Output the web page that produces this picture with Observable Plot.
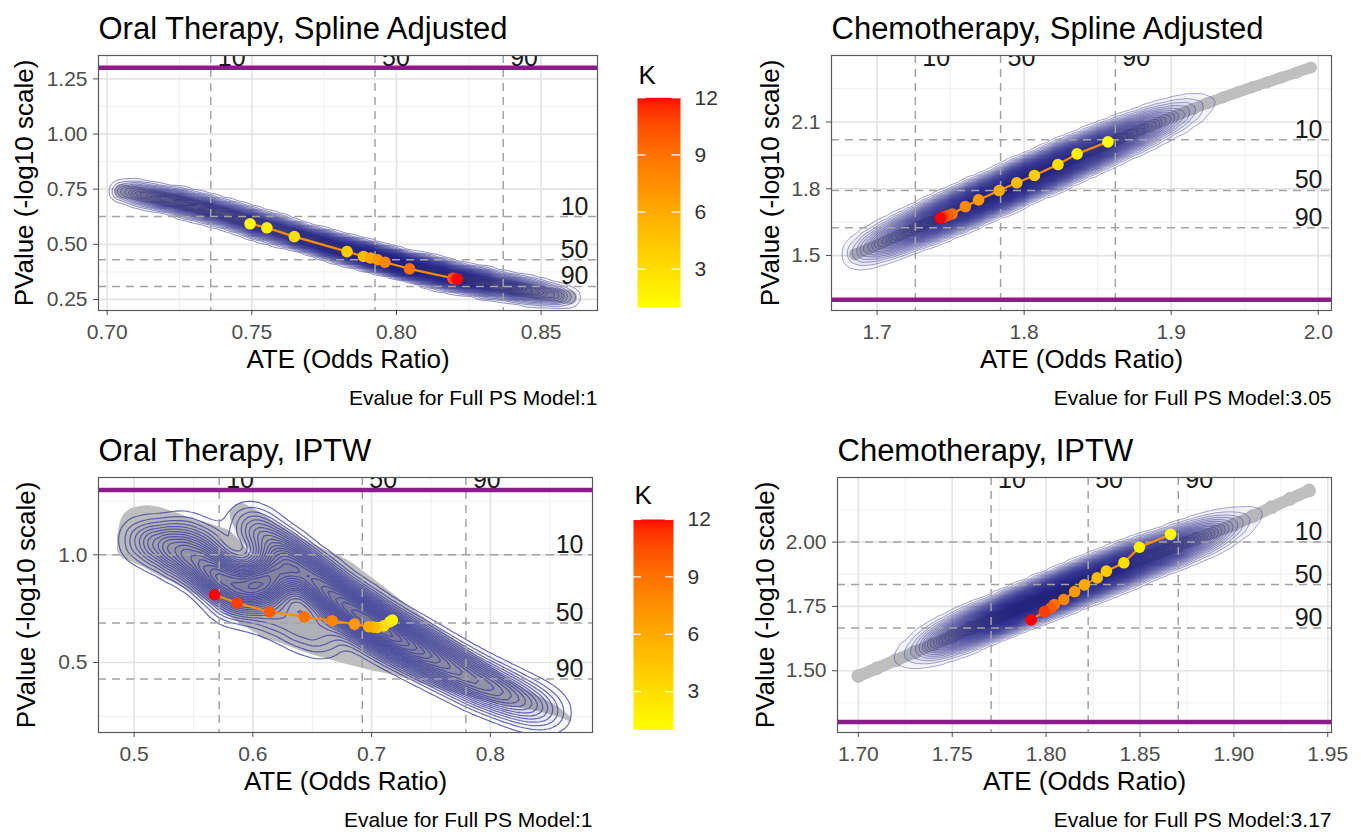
<!DOCTYPE html>
<html>
<head>
<meta charset="utf-8">
<script src="https://cdn.jsdelivr.net/npm/d3@7"></script>
<script src="https://cdn.jsdelivr.net/npm/@observablehq/plot@0.6"></script>
<style>
  html, body { margin: 0; padding: 0; background: #ffffff; }
  #root { position: relative; width: 1361px; height: 832px; overflow: hidden; background: #fff; }
  #root > svg { position: absolute; overflow: visible; }
</style>
</head>
<body>
<div id="root"></div>
<script>
// ---------------- DATA ----------------
const kValues = [1, 2, 3, 4, 5, 6, 7, 8, 9, 10, 11, 12];
const kLegendTicks = [3, 6, 9, 12];
const pctLabels = ["10", "50", "90"];
const pThreshold = 1.30103; // -log10(0.05)

// Panel A: Oral Therapy, Spline Adjusted
const oralSplineTitle = "Oral Therapy, Spline Adjusted";
const oralSplineCaption = "Evalue for Full PS Model:1";
const oralSplineKATE = [0.7494, 0.7552, 0.7647, 0.7829, 0.7886, 0.7910, 0.7935, 0.7960, 0.8045, 0.8195, 0.8203, 0.8210];
const oralSplineKPV  = [0.593, 0.575, 0.535, 0.467, 0.445, 0.438, 0.430, 0.419, 0.389, 0.346, 0.344, 0.342];
const oralSplineCloudATE = [0.705, 0.710, 0.715, 0.720, 0.725, 0.730, 0.735, 0.740, 0.745, 0.750, 0.755, 0.760, 0.765, 0.770, 0.775, 0.780, 0.785, 0.790, 0.795, 0.800, 0.805, 0.810, 0.815, 0.820, 0.825, 0.830, 0.835, 0.840, 0.845, 0.850, 0.855, 0.860];
const oralSplineCloudPV  = [0.742, 0.731, 0.718, 0.705, 0.690, 0.674, 0.658, 0.640, 0.620, 0.598, 0.580, 0.561, 0.541, 0.521, 0.501, 0.482, 0.465, 0.448, 0.431, 0.414, 0.397, 0.382, 0.366, 0.351, 0.338, 0.326, 0.314, 0.302, 0.291, 0.280, 0.270, 0.260];
const oralSplineCloudW   = [0.3, 0.5, 0.7, 0.8, 0.9, 1.0, 1.0, 1.0, 1.1, 1.2, 1.2, 1.2, 1.2, 1.3, 1.4, 1.5, 1.6, 1.7, 1.8, 1.8, 1.8, 1.7, 1.6, 1.5, 1.4, 1.2, 1.0, 0.9, 0.8, 0.6, 0.4, 0.2];
const oralSplineATEq = [0.7358, 0.7926, 0.8369];
const oralSplinePVq  = [0.626, 0.430, 0.309];
const oralSplineXTicks = [0.70, 0.75, 0.80, 0.85];
const oralSplineXMinor = [0.725, 0.775, 0.825];
const oralSplineYTicks = [0.25, 0.50, 0.75, 1.00, 1.25];
const oralSplineYMinor = [0.375, 0.625, 0.875, 1.125];

// Panel B: Chemotherapy, Spline Adjusted
const chemoSplineTitle = "Chemotherapy, Spline Adjusted";
const chemoSplineCaption = "Evalue for Full PS Model:3.05";
const chemoSplineKATE = [1.857, 1.836, 1.823, 1.807, 1.795, 1.783, 1.769, 1.760, 1.751, 1.748, 1.745, 1.743];
const chemoSplineKPV  = [2.011, 1.957, 1.909, 1.860, 1.827, 1.792, 1.750, 1.720, 1.687, 1.680, 1.673, 1.668];
const chemoSplineCloudATE = [1.685, 1.695, 1.705, 1.715, 1.725, 1.735, 1.745, 1.755, 1.765, 1.775, 1.785, 1.795, 1.805, 1.815, 1.825, 1.835, 1.845, 1.855, 1.865, 1.875, 1.885, 1.895, 1.905, 1.915, 1.925, 1.935, 1.945, 1.955, 1.965, 1.975, 1.985, 1.995];
const chemoSplineCloudPV  = [1.505, 1.533, 1.562, 1.591, 1.620, 1.648, 1.676, 1.705, 1.734, 1.763, 1.793, 1.823, 1.853, 1.882, 1.911, 1.940, 1.969, 1.997, 2.025, 2.052, 2.080, 2.107, 2.134, 2.160, 2.186, 2.210, 2.234, 2.256, 2.278, 2.300, 2.322, 2.345];
const chemoSplineCloudW   = [0.12, 0.25, 0.4, 0.55, 0.7, 0.85, 1.0, 1.1, 1.2, 1.25, 1.3, 1.3, 1.3, 1.25, 1.2, 1.1, 1.0, 0.9, 0.75, 0.6, 0.45, 0.32, 0.2, 0.1, 0.04, 0.02, 0.01, 0.01, 0.01, 0.01, 0.01, 0.01];
const chemoSplineATEq = [1.726, 1.784, 1.862];
const chemoSplinePVq  = [2.0205, 1.7925, 1.6245];
const chemoSplineXTicks = [1.7, 1.8, 1.9, 2.0];
const chemoSplineXMinor = [1.75, 1.85, 1.95];
const chemoSplineYTicks = [1.5, 1.8, 2.1];
const chemoSplineYMinor = [1.35, 1.65, 1.95, 2.25];

// Panel C: Oral Therapy, IPTW
const oralIptwTitle = "Oral Therapy, IPTW";
const oralIptwCaption = "Evalue for Full PS Model:1";
const oralIptwKATE = [0.7174, 0.7153, 0.7103, 0.7047, 0.7017, 0.6976, 0.6856, 0.6668, 0.6434, 0.6142, 0.5867, 0.5678];
const oralIptwKPV  = [0.697, 0.689, 0.670, 0.6626, 0.664, 0.666, 0.678, 0.694, 0.712, 0.7355, 0.776, 0.8145];
const oralIptwLobeATE = [0.486, 0.489, 0.495, 0.503, 0.512, 0.520, 0.530, 0.540, 0.550, 0.560, 0.570, 0.580, 0.590, 0.600, 0.605];
const oralIptwLobeLo  = [1.02, 0.99, 0.972, 0.955, 0.930, 0.905, 0.878, 0.850, 0.820, 0.790, 0.755, 0.715, 0.680, 0.645, 0.630];
const oralIptwLobeHi  = [1.08, 1.16, 1.205, 1.222, 1.228, 1.222, 1.205, 1.185, 1.165, 1.150, 1.132, 1.112, 1.06, 0.99, 0.96];
const oralIptwBandATE = [0.581, 0.590, 0.600, 0.605, 0.620, 0.640, 0.660, 0.680, 0.700, 0.720, 0.740, 0.760, 0.780, 0.800, 0.820, 0.840, 0.855, 0.868];
const oralIptwBandLo  = [1.17, 1.07, 0.99, 0.62, 0.595, 0.555, 0.520, 0.490, 0.462, 0.440, 0.405, 0.370, 0.345, 0.315, 0.292, 0.272, 0.250, 0.222];
const oralIptwBandHi  = [1.20, 1.24, 1.215, 1.20, 1.145, 1.08, 1.025, 0.975, 0.895, 0.81, 0.725, 0.645, 0.565, 0.485, 0.405, 0.345, 0.300, 0.245];
const oralIptwDensATE = [0.505, 0.520, 0.535, 0.550, 0.565, 0.575, 0.590, 0.600, 0.610, 0.620, 0.540, 0.560, 0.580, 0.600, 0.620, 0.640, 0.660,
  0.595, 0.605, 0.615, 0.625, 0.635, 0.645, 0.655, 0.665, 0.675, 0.685, 0.695, 0.705, 0.715, 0.725, 0.735, 0.745, 0.755, 0.765, 0.775, 0.785, 0.795, 0.805, 0.815, 0.825, 0.835, 0.845, 0.855];
const oralIptwDensPV  = [1.07, 1.05, 1.01, 0.97, 0.92, 0.885, 0.86, 0.85, 0.89, 0.87, 1.10, 1.05, 0.78, 0.76, 0.72, 0.66, 0.62,
  1.15, 1.10, 1.05, 1.00, 0.96, 0.91, 0.87, 0.82, 0.78, 0.74, 0.70, 0.665, 0.63, 0.60, 0.57, 0.54, 0.51, 0.48, 0.45, 0.42, 0.395, 0.37, 0.345, 0.32, 0.30, 0.28, 0.26];
const oralIptwDensW   = [0.5, 0.8, 1.0, 1.2, 1.4, 1.4, 1.2, 1.0, 1.3, 1.2, 0.5, 0.6, 0.6, 0.6, 0.6, 0.6, 0.5,
  0.4, 0.6, 0.8, 1.0, 1.1, 1.2, 1.3, 1.4, 1.5, 1.6, 1.6, 1.6, 1.5, 1.4, 1.3, 1.2, 1.1, 1.0, 0.95, 0.9, 0.85, 0.8, 0.7, 0.6, 0.5, 0.35, 0.2];
const oralIptwATEq = [0.5716, 0.6921, 0.7794];
const oralIptwPVq  = [1.0, 0.683, 0.423];
const oralIptwXTicks = [0.5, 0.6, 0.7, 0.8];
const oralIptwXMinor = [0.55, 0.65, 0.75, 0.85];
const oralIptwYTicks = [0.5, 1.0];
const oralIptwYMinor = [0.25, 0.75, 1.25];

// Panel D: Chemotherapy, IPTW
const chemoIptwTitle = "Chemotherapy, IPTW";
const chemoIptwCaption = "Evalue for Full PS Model:3.17";
const chemoIptwKATE = [1.8663, 1.8497, 1.8414, 1.8321, 1.8272, 1.8204, 1.8152, 1.8094, 1.8044, 1.8026, 1.7991, 1.7921];
const chemoIptwKPV  = [2.030, 1.980, 1.9196, 1.887, 1.861, 1.8338, 1.8078, 1.7766, 1.757, 1.744, 1.7298, 1.6975];
const chemoIptwCloudATE = [1.70, 1.71, 1.72, 1.73, 1.74, 1.75, 1.76, 1.77, 1.78, 1.79, 1.80, 1.81, 1.82, 1.83, 1.84, 1.85, 1.86, 1.87, 1.88, 1.89, 1.90, 1.91, 1.92, 1.93, 1.94];
const chemoIptwCloudPV  = [1.480, 1.510, 1.541, 1.572, 1.603, 1.634, 1.665, 1.695, 1.726, 1.756, 1.786, 1.815, 1.845, 1.874, 1.903, 1.931, 1.959, 1.986, 2.013, 2.040, 2.068, 2.100, 2.135, 2.168, 2.200];
const chemoIptwCloudW   = [0.01, 0.015, 0.03, 0.12, 0.35, 0.6, 0.85, 1.05, 1.2, 1.3, 1.35, 1.35, 1.35, 1.3, 1.2, 1.05, 0.9, 0.75, 0.55, 0.35, 0.15, 0.05, 0.02, 0.01, 0.01];
const chemoIptwATEq = [1.7707, 1.8224, 1.8704];
const chemoIptwPVq  = [2.00, 1.835, 1.666];
const chemoIptwXTicks = [1.70, 1.75, 1.80, 1.85, 1.90, 1.95];
const chemoIptwXMinor = [1.725, 1.775, 1.825, 1.875, 1.925];
const chemoIptwYTicks = [1.50, 1.75, 2.00];
const chemoIptwYMinor = [1.375, 1.625, 1.875, 2.125];

const xTitle = "ATE (Odds Ratio)";
const yTitle = "PValue (-log10 scale)";

// ---------------- HELPERS ----------------
const zip = (keys, ...arrs) => arrs[0].map((_, i) => Object.fromEntries(keys.map((k, j) => [k, arrs[j][i]])));
const FONT = '"Liberation Sans", Arial, Helvetica, sans-serif';
const kColor = {type: "linear", domain: [1, 12], range: ["#ffff00", "#ff0000"], interpolate: "lab"};
const GREY = "#bfbfbf";
const TOPLABEL = "#1a1a1b";
const NS = "http://www.w3.org/2000/svg";
let clipCount = 0;

// clip the top percentile labels to the panel frame (as in the reference)
function clipToFrame(svg, o) {
  const groups = Array.from(svg.querySelectorAll("g")).filter(g => (g.getAttribute("fill") || "").toLowerCase() === TOPLABEL);
  if (!groups.length) return;
  const id = "pctclip" + (clipCount++);
  const defs = document.createElementNS(NS, "defs");
  const cp = document.createElementNS(NS, "clipPath");
  cp.setAttribute("id", id);
  const r = document.createElementNS(NS, "rect");
  r.setAttribute("x", o.ml); r.setAttribute("y", o.mt);
  r.setAttribute("width", o.w - o.ml - o.mr); r.setAttribute("height", o.h - o.mt - o.mb);
  cp.appendChild(r); defs.appendChild(cp); svg.appendChild(defs);
  for (const g of groups) {
    const wrap = document.createElementNS(NS, "g");
    wrap.setAttribute("clip-path", `url(#${id})`);
    g.parentNode.insertBefore(wrap, g);
    wrap.appendChild(g);
  }
}

function panel(o) {
  const kData = zip(["k", "ate", "pv"], kValues, o.kATE, o.kPV);
  const marks = [
    Plot.gridX(o.xMinor, {stroke: "#f0f0f0", strokeWidth: 1, strokeOpacity: 1}),
    Plot.gridY(o.yMinor, {stroke: "#f0f0f0", strokeWidth: 1, strokeOpacity: 1}),
    Plot.gridX(o.xTicks, {stroke: "#e4e4e4", strokeWidth: 1.7, strokeOpacity: 1}),
    Plot.gridY(o.yTicks, {stroke: "#e4e4e4", strokeWidth: 1.7, strokeOpacity: 1}),
    ...o.cloudMarks,
    Plot.ruleX(o.ateQ, {stroke: "#a3a3a3", strokeWidth: 1.5, strokeDasharray: "8,6"}),
    Plot.ruleY(o.pvQ, {stroke: "#a3a3a3", strokeWidth: 1.5, strokeDasharray: "8,6"}),
    Plot.ruleY([pThreshold], {stroke: "#8a1c8c", strokeWidth: 4.5}),
    Plot.line(kData, {x: "ate", y: "pv", stroke: "#ff8c00", strokeWidth: 2.2}),
    Plot.dot(kData, {x: "ate", y: "pv", fill: "k", r: 5.8}),
    Plot.text(o.ateQ, {x: d => d, text: (d, i) => pctLabels[i], frameAnchor: "top", textAnchor: "start", lineAnchor: "bottom", dx: 7, dy: 10, fontSize: 25, fill: TOPLABEL}),
    Plot.text(o.pvQ, {y: d => d, text: (d, i) => pctLabels[i], frameAnchor: "right", textAnchor: "end", lineAnchor: "bottom", dx: -9, dy: -2, fontSize: 25, fill: "#1a1a1a"}),
    Plot.frame({stroke: "#5a5a5a", strokeWidth: 1.2}),
    Plot.axisX(o.xTicks, {tickFormat: o.xFmt, fontSize: 21, tickSize: 5, tickPadding: 9, color: "#4d4d4d", label: null}),
    Plot.axisY(o.yTicks, {tickFormat: o.yFmt, fontSize: 21, tickSize: 5, tickPadding: 6, color: "#4d4d4d", label: null}),
    Plot.text([o.title], {text: d => d, frameAnchor: "top-left", textAnchor: "start", lineAnchor: "bottom", dy: -17, fontSize: 31, fill: "#000"}),
    Plot.text([xTitle], {text: d => d, frameAnchor: "bottom", textAnchor: "middle", lineAnchor: "bottom", dy: 57, fontSize: 26, fill: "#000"}),
    Plot.text([yTitle], {text: d => d, frameAnchor: "left", textAnchor: "middle", lineAnchor: "middle", rotate: -90, dx: o.yTitleDx, fontSize: 26, fill: "#000"}),
    Plot.text([o.caption], {text: d => d, frameAnchor: "bottom-right", textAnchor: "end", lineAnchor: "bottom", dy: 94, fontSize: 21, fill: "#000"})
  ];
  const svg = Plot.plot({
    width: o.w, height: o.h,
    marginLeft: o.ml, marginRight: o.mr, marginTop: o.mt, marginBottom: o.mb,
    style: {fontFamily: FONT, background: "transparent", overflow: "visible"},
    x: {domain: o.xDomain},
    y: {domain: o.yDomain},
    color: kColor,
    marks
  });
  clipToFrame(svg, o);
  svg.style.left = o.left + "px";
  svg.style.top = o.top + "px";
  return svg;
}

function spineCloud(ate, pv, w, s) {
  const data = zip(["ate", "pv", "w"], ate, pv, w);
  return [
    Plot.line(data, {x: "ate", y: "pv", stroke: GREY, strokeWidth: s.width, strokeLinecap: "round", strokeLinejoin: "round", curve: "catmull-rom", clip: true}),
    Plot.dot(data, {x: "ate", y: "pv", r: s.r, fill: GREY, clip: true}),
    Plot.density(data, {x: "ate", y: "pv", weight: "w", bandwidth: s.bw, thresholds: s.thr,
      fill: "#15156c", fillOpacity: s.fo, stroke: "#22228c", strokeOpacity: s.so, strokeWidth: s.sw, clip: true})
  ];
}

function legend(o) {
  const svg = Plot.plot({
    width: o.w, height: o.h,
    marginLeft: o.ml, marginRight: o.mr, marginTop: o.mt, marginBottom: o.mb,
    style: {fontFamily: FONT, background: "transparent", overflow: "visible"},
    x: {domain: [0, 1], axis: null},
    y: {domain: [1, 12]},
    color: kColor,
    marks: [
      Plot.raster({x1: 0, x2: 1, y1: 1, y2: 12, fill: (x, y) => y}),
      Plot.ruleY(kLegendTicks, {y: d => d, x1: 0, x2: 0.2, stroke: "#ffffff", strokeWidth: 1.2}),
      Plot.ruleY(kLegendTicks, {y: d => d, x1: 0.8, x2: 1, stroke: "#ffffff", strokeWidth: 1.2}),
      Plot.axisY(kLegendTicks, {anchor: "right", tickSize: 0, tickPadding: 14, fontSize: 21, color: "#333", label: null}),
      Plot.text(["K"], {text: d => d, frameAnchor: "top-left", textAnchor: "start", lineAnchor: "bottom", dx: 1, dy: o.kDy, fontSize: 26, fill: "#000"})
    ]
  });
  svg.style.left = o.left + "px";
  svg.style.top = o.top + "px";
  return svg;
}

// ---------------- BUILD ----------------
const root = document.getElementById("root");
const f2 = d3.format(".2f"), f1 = d3.format(".1f");

const oralIptwCloudMarks = (() => {
  const lobe = zip(["ate", "lo", "hi"], oralIptwLobeATE, oralIptwLobeLo, oralIptwLobeHi);
  const band = zip(["ate", "lo", "hi"], oralIptwBandATE, oralIptwBandLo, oralIptwBandHi);
  const dens = zip(["ate", "pv", "w"], oralIptwDensATE, oralIptwDensPV, oralIptwDensW);
  return [
    Plot.areaY(lobe, {x: "ate", y1: "lo", y2: "hi", fill: GREY, curve: "monotone-x", clip: true}),
    Plot.areaY(band, {x: "ate", y1: "lo", y2: "hi", fill: GREY, curve: "monotone-x", clip: true}),
    Plot.density(dens, {x: "ate", y: "pv", weight: "w", bandwidth: 12, thresholds: 24,
      fill: "#20207a", fillOpacity: 0.025, stroke: "#393c9e", strokeOpacity: 0.75, strokeWidth: 1.2, clip: true})
  ];
})();

root.append(panel({
  left: 0, top: 0, w: 620, h: 420, ml: 98, mr: 23, mt: 55, mb: 110,
  xDomain: [0.697, 0.8695], yDomain: [0.200, 1.356],
  xTicks: oralSplineXTicks, xMinor: oralSplineXMinor, yTicks: oralSplineYTicks, yMinor: oralSplineYMinor,
  xFmt: f2, yFmt: f2,
  kATE: oralSplineKATE, kPV: oralSplineKPV, ateQ: oralSplineATEq, pvQ: oralSplinePVq,
  cloudMarks: spineCloud(oralSplineCloudATE, oralSplineCloudPV, oralSplineCloudW, {width: 14, r: 6, bw: 5, thr: 35, fo: 0.06, so: 0.6, sw: 0.8}),
  title: oralSplineTitle, caption: oralSplineCaption, yTitleDx: -74
}));

root.append(panel({
  left: 720, top: 0, w: 641, h: 420, ml: 111, mr: 30, mt: 55, mb: 110,
  xDomain: [1.669, 2.009], yDomain: [1.253, 2.399],
  xTicks: chemoSplineXTicks, xMinor: chemoSplineXMinor, yTicks: chemoSplineYTicks, yMinor: chemoSplineYMinor,
  xFmt: f1, yFmt: f1,
  kATE: chemoSplineKATE, kPV: chemoSplineKPV, ateQ: chemoSplineATEq, pvQ: chemoSplinePVq,
  cloudMarks: spineCloud(chemoSplineCloudATE, chemoSplineCloudPV, chemoSplineCloudW, {width: 11, r: 6, bw: 8.5, thr: 40, fo: 0.05, so: 0.5, sw: 0.8}),
  title: chemoSplineTitle, caption: chemoSplineCaption, yTitleDx: -61
}));

root.append(panel({
  left: 0, top: 420, w: 620, h: 412, ml: 98, mr: 28, mt: 57, mb: 100,
  xDomain: [0.470, 0.886], yDomain: [0.175, 1.359],
  xTicks: oralIptwXTicks, xMinor: oralIptwXMinor, yTicks: oralIptwYTicks, yMinor: oralIptwYMinor,
  xFmt: f1, yFmt: f1,
  kATE: oralIptwKATE, kPV: oralIptwKPV, ateQ: oralIptwATEq, pvQ: oralIptwPVq,
  cloudMarks: oralIptwCloudMarks,
  title: oralIptwTitle, caption: oralIptwCaption, yTitleDx: -72
}));

root.append(panel({
  left: 720, top: 420, w: 641, h: 412, ml: 117, mr: 30, mt: 57, mb: 100,
  xDomain: [1.6889, 1.952], yDomain: [1.260, 2.251],
  xTicks: chemoIptwXTicks, xMinor: chemoIptwXMinor, yTicks: chemoIptwYTicks, yMinor: chemoIptwYMinor,
  xFmt: f2, yFmt: f2,
  kATE: chemoIptwKATE, kPV: chemoIptwKPV, ateQ: chemoIptwATEq, pvQ: chemoIptwPVq,
  cloudMarks: spineCloud(chemoIptwCloudATE, chemoIptwCloudPV, chemoIptwCloudW, {width: 12, r: 7, bw: 8.5, thr: 40, fo: 0.05, so: 0.5, sw: 0.8}),
  title: chemoIptwTitle, caption: chemoIptwCaption, yTitleDx: -72
}));

root.append(legend({left: 620, top: 60, w: 100, h: 260, ml: 17, mr: 40, mt: 37.3, mb: 13.3, kDy: -14}));
root.append(legend({left: 620, top: 480, w: 100, h: 260, ml: 13, mr: 47, mt: 39, mb: 10.7, kDy: -16}));
</script>
</body>
</html>
